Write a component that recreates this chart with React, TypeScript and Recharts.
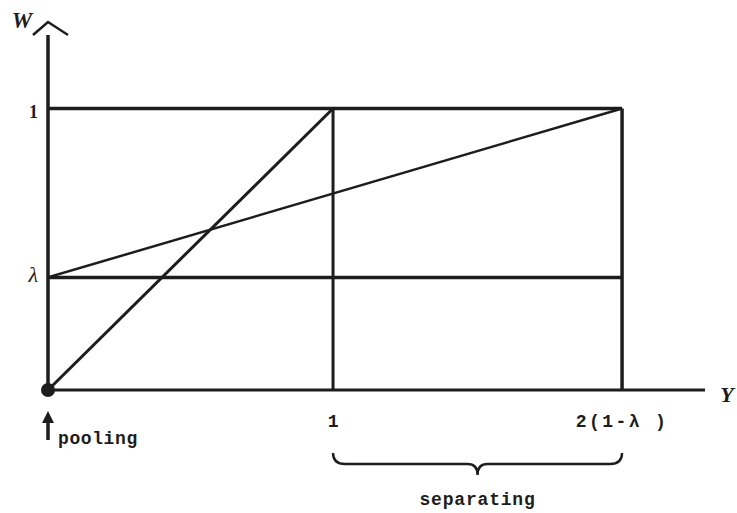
import { ComposedChart, Line, XAxis, YAxis, ReferenceDot, ReferenceArea } from "recharts"

// values (axis units)
const lambda = 0.4
const sepEnd = 2.014 // position of 2(1-λ)
const yMax = 2.305
const wMax = 1.261

const xTicks = [0, 1, sepEnd]
const xTickLabels = ["pooling", "1", "2(1-λ )"]
const wTicks = [lambda, 1]
const wTickLabels = ["λ", "1"]

const diagonal = [{ y: 0, w: 0 }, { y: 1, w: 1 }]
const upperLine = [{ y: 0, w: lambda }, { y: sepEnd, w: 1 }]
const lambdaLine = [{ y: 0, w: lambda }, { y: sepEnd, w: lambda }]
const topLine = [{ y: 0, w: 1 }, { y: sepEnd, w: 1 }]
const vertOne = [{ y: 1, w: 0 }, { y: 1, w: 1 }]
const vertSep = [{ y: sepEnd, w: 0 }, { y: sepEnd, w: 1 }]

const ink = "#1d1d1d"
const mono = "'Liberation Mono', 'DejaVu Sans Mono', monospace"
const serif = "'Liberation Serif', 'DejaVu Serif', serif"

function XTick(props: any) {
	const { x, y, payload, index } = props
	const label = xTickLabels[index]
	if (payload.value === 0) {
		// the pooling arrow under the origin
		return (
			<g>
				<line x1={x} y1={y + 28} x2={x} y2={y + 50} stroke={ink} strokeWidth={3.5} />
				<path d={`M${x - 6},${y + 33} L${x},${y + 21} L${x + 6},${y + 33} Z`} fill={ink} />
				<text x={x + 10} y={y + 54} fontFamily={mono} fontSize={18} fontWeight="bold" letterSpacing={0.6} fill={ink}>
					{label}
				</text>
			</g>
		)
	}
	return (
		<text
			x={x}
			y={y + 37}
			textAnchor="middle"
			fontFamily={mono}
			fontSize={18}
			fontWeight="bold"
			letterSpacing={index === 2 ? 2.4 : 0}
			fill={ink}
		>
			{label}
		</text>
	)
}

function YTick(props: any) {
	const { x, y, index } = props
	const isLambda = index === 0
	return (
		<text
			x={x - 10}
			y={y + (isLambda ? 5 : 10)}
			textAnchor="end"
			fontFamily={serif}
			fontStyle={isLambda ? "italic" : "normal"}
			fontWeight={isLambda ? "normal" : "bold"}
			fontSize={isLambda ? 22 : 18}
			fill={ink}
		>
			{wTickLabels[index]}
		</text>
	)
}

function Caret(props: any) {
	const { cx, cy } = props
	return (
		<g>
			<path
				d={`M${cx - 15},${cy} L${cx},${cy - 13} L${cx + 20},${cy}`}
				fill="none"
				stroke={ink}
				strokeWidth={2.5}
			/>
			<text x={cx - 26} y={cy - 7} textAnchor="middle" fontFamily={serif} fontStyle="italic" fontWeight="bold" fontSize={23} fill={ink}>
				W
			</text>
		</g>
	)
}

function YLabel(props: any) {
	const { cx, cy } = props
	return (
		<text x={cx + 22} y={cy + 12} textAnchor="middle" fontFamily={serif} fontStyle="italic" fontWeight="bold" fontSize={22} fill={ink}>
			Y
		</text>
	)
}

function Brace(props: any) {
	const { x, y, width, height } = props
	const mid = x + width / 2
	const h = y + height * 0.5
	const d = `M${x},${y} Q${x},${h} ${x + 12},${h} L${mid - 10},${h} Q${mid},${h} ${mid},${y + height} Q${mid},${h} ${mid + 10},${h} L${x + width - 12},${h} Q${x + width},${h} ${x + width},${y}`
	return (
		<g>
			<path d={d} fill="none" stroke={ink} strokeWidth={2.4} />
			<text x={mid} y={y + height + 30} textAnchor="middle" fontFamily={mono} fontSize={18} fontWeight="bold" letterSpacing={0.8} fill={ink}>
				separating
			</text>
		</g>
	)
}

function App() {
	return (
		<div style={{ position: "absolute", left: 0, top: 0 }}>
			<ComposedChart width={737} height={513} margin={{ top: 35, right: 32, bottom: 93, left: 18 }}>
				<XAxis
					dataKey="y"
					type="number"
					domain={[0, yMax]}
					ticks={xTicks}
					allowDataOverflow
					height={30}
					tickLine={false}
					tickSize={0}
					tickMargin={0}
					tick={<XTick />}
					axisLine={{ stroke: ink, strokeWidth: 3 }}
				/>
				<YAxis
					dataKey="w"
					type="number"
					domain={[0, wMax]}
					ticks={wTicks}
					allowDataOverflow
					width={30}
					tickLine={false}
					tickSize={0}
					tickMargin={0}
					tick={<YTick />}
					axisLine={{ stroke: ink, strokeWidth: 3.5 }}
				/>
				<Line data={topLine} dataKey="w" stroke={ink} strokeWidth={3.5} dot={false} activeDot={false} isAnimationActive={false} />
				<Line data={lambdaLine} dataKey="w" stroke={ink} strokeWidth={3.5} dot={false} activeDot={false} isAnimationActive={false} />
				<Line data={vertOne} dataKey="w" stroke={ink} strokeWidth={3} dot={false} activeDot={false} isAnimationActive={false} />
				<Line data={vertSep} dataKey="w" stroke={ink} strokeWidth={3.5} dot={false} activeDot={false} isAnimationActive={false} />
				<Line data={diagonal} dataKey="w" stroke={ink} strokeWidth={3} dot={false} activeDot={false} isAnimationActive={false} />
				<Line data={upperLine} dataKey="w" stroke={ink} strokeWidth={2.5} dot={false} activeDot={false} isAnimationActive={false} />
				<ReferenceDot x={0} y={0} r={7} fill={ink} stroke="none" ifOverflow="visible" />
				<ReferenceDot x={0} y={wMax} ifOverflow="visible" shape={<Caret />} />
				<ReferenceDot x={yMax} y={0} ifOverflow="visible" shape={<YLabel />} />
				<ReferenceArea x1={1} x2={sepEnd} y1={-0.224} y2={-0.302} ifOverflow="visible" shape={<Brace />} />
			</ComposedChart>
		</div>
	)
}

export default App
